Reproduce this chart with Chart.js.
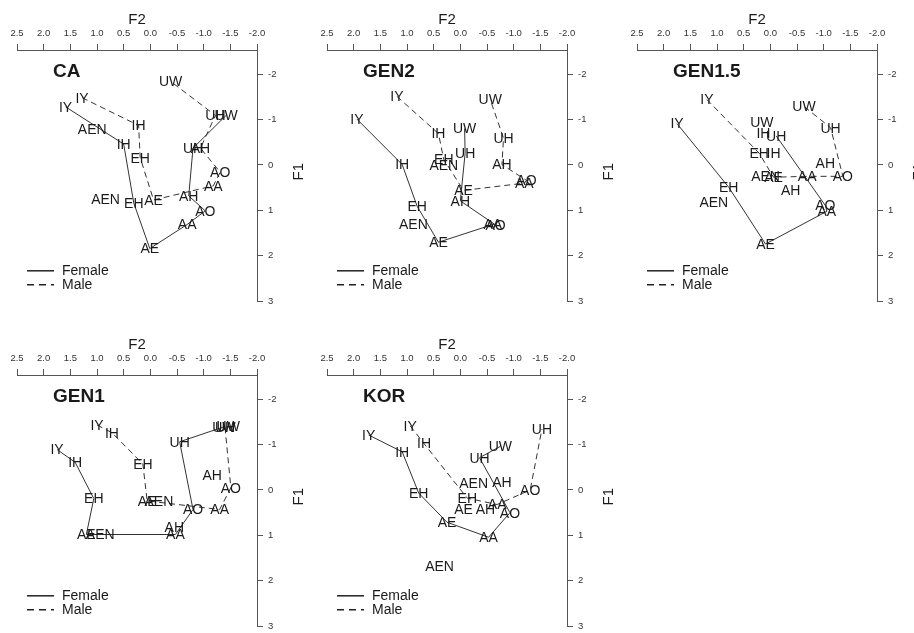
<!DOCTYPE html>
<html>
<head>
<meta charset="utf-8">
<title>Vowel spaces</title>
<script src="https://cdn.jsdelivr.net/npm/chart.js@4.4.1/dist/chart.umd.min.js"></script>
<style>
  html, body { margin: 0; padding: 0; background: #fff; overflow: hidden; }
  body { width: 914px; height: 633px; position: relative; }
  canvas { position: absolute; }
</style>
</head>
<body>
<canvas id="ca" width="320" height="312" style="left:-3px;top:0px"></canvas>
<canvas id="gen2" width="320" height="312" style="left:307px;top:0px"></canvas>
<canvas id="gen15" width="320" height="312" style="left:617px;top:0px"></canvas>
<canvas id="gen1" width="320" height="312" style="left:-3px;top:325px"></canvas>
<canvas id="kor" width="320" height="312" style="left:307px;top:325px"></canvas>
<script>
const FONT = '"Liberation Sans", Arial, Helvetica, sans-serif';

// axis ticks
const f2Ticks = [2.5, 2.0, 1.5, 1.0, 0.5, 0.0, -0.5, -1.0, -1.5, -2.0];
const f1Ticks = [-2, -1, 0, 1, 2, 3];

const vowelOrder = ['IY', 'IH', 'EH', 'AE', 'AA', 'AO', 'AH', 'UH', 'UW'];

// CA
const caFemaleF2 = [1.59, 0.5, 0.31, 0.01, -0.69, -1.03, -0.72, -0.8, -1.42];
const caFemaleF1 = [-1.28, -0.46, 0.84, 1.84, 1.31, 1.01, 0.68, -0.37, -1.09];
const caMaleF2 = [1.28, 0.22, 0.19, -0.06, -1.18, -1.31, -0.94, -1.22, -0.38];
const caMaleF1 = [-1.48, -0.87, -0.16, 0.77, 0.46, 0.16, -0.37, -1.09, -1.84];
const caOtherVowels = ['AEN', 'AEN'];
const caOtherF2 = [1.09, 0.84];
const caOtherF1 = [-0.78, 0.76];

// GEN2
const gen2FemaleF2 = [1.94, 1.09, 0.81, 0.41, -0.61, -0.66, 0.0, -0.09, -0.08];
const gen2FemaleF1 = [-1.01, -0.01, 0.91, 1.70, 1.31, 1.32, 0.79, -0.26, -0.8];
const gen2MaleF2 = [1.19, 0.41, 0.31, -0.06, -1.2, -1.24, -0.78, -0.81, -0.56];
const gen2MaleF1 = [-1.51, -0.69, -0.12, 0.56, 0.4, 0.34, -0.01, -0.59, -1.44];
const gen2OtherVowels = ['AEN', 'AEN'];
const gen2OtherF2 = [0.88, 0.31];
const gen2OtherF1 = [1.31, 0.0];

// GEN1.5
const gen15FemaleVowels = ['IY', 'EH', 'AE', 'AA', 'AO', 'UH'];
const gen15FemaleF2 = [1.75, 0.78, 0.09, -1.06, -1.03, -0.11];
const gen15FemaleF1 = [-0.91, 0.49, 1.74, 1.02, 0.89, -0.64];
const gen15MaleVowels = ['IY', 'EH', 'AE', 'AA', 'AO', 'UH', 'UW'];
const gen15MaleF2 = [1.19, 0.21, -0.06, -0.69, -1.36, -1.13, -0.63];
const gen15MaleF1 = [-1.44, -0.26, 0.27, 0.25, 0.25, -0.82, -1.29];
const gen15OtherVowels = ['IH', 'IH', 'UW', 'AH', 'AH', 'AEN', 'AEN'];
const gen15OtherF2 = [0.13, -0.06, 0.16, -1.03, -0.38, 0.09, 1.06];
const gen15OtherF1 = [-0.69, -0.26, -0.94, -0.05, 0.56, 0.25, 0.81];

// GEN1
const gen1FemaleVowels = ['IY', 'IH', 'EH', 'AE', 'AA', 'AO', 'UH', 'UW'];
const gen1FemaleF2 = [1.75, 1.41, 1.06, 1.2, -0.47, -0.8, -0.55, -1.38];
const gen1FemaleF1 = [-0.89, -0.61, 0.19, 0.98, 0.98, 0.43, -1.06, -1.39];
const gen1MaleVowels = ['IY', 'IH', 'EH', 'AE', 'AA', 'AO', 'UH', 'UW'];
const gen1MaleF2 = [1.0, 0.72, 0.14, 0.06, -1.3, -1.51, -1.4, -1.46];
const gen1MaleF1 = [-1.43, -1.26, -0.57, 0.24, 0.43, -0.05, -1.38, -1.41];
const gen1OtherVowels = ['AH', 'AEN', 'AH', 'AEN'];
const gen1OtherF2 = [-0.45, 0.94, -1.16, -0.16];
const gen1OtherF1 = [0.82, 0.98, -0.32, 0.24];

// KOR
const korFemaleVowels = ['IY', 'IH', 'EH', 'AE', 'AA', 'AO', 'UH', 'UW'];
const korFemaleF2 = [1.72, 1.09, 0.78, 0.25, -0.53, -0.93, -0.36, -0.75];
const korFemaleF1 = [-1.21, -0.84, 0.07, 0.71, 1.04, 0.5, -0.71, -0.96];
const korMaleVowels = ['IY', 'IH', 'EH', 'AA', 'AO', 'UH'];
const korMaleF2 = [0.94, 0.68, -0.13, -0.69, -1.31, -1.53];
const korMaleF1 = [-1.41, -1.02, 0.18, 0.32, 0.0, -1.34];
const korOtherVowels = ['AE', 'AH', 'AH', 'AEN', 'AEN'];
const korOtherF2 = [-0.06, -0.47, -0.78, -0.25, 0.39];
const korOtherF1 = [0.43, 0.43, -0.18, -0.14, 1.68];

function points(f2, f1) {
    return f2.map((x, i) => ({ x: x, y: f1[i] }));
}

// vowel text, panel title, legend and the F1 title
const vowelText = {
    id: 'vowelText',
    afterDatasetsDraw(chart, args, opts) {
        const ctx = chart.ctx;
        const { left, right, top, bottom } = chart.chartArea;
        const xs = chart.scales.x;
        const ys = chart.scales.y;
        ctx.save();
        ctx.fillStyle = '#1a1a1a';
        ctx.font = '14px ' + FONT;
        ctx.textAlign = 'center';
        ctx.textBaseline = 'middle';
        chart.data.datasets.forEach(ds => {
            ds.data.forEach((p, i) => {
                ctx.fillText(ds.vowels[i], xs.getPixelForValue(p.x), ys.getPixelForValue(p.y) + 1);
            });
        });

        ctx.textAlign = 'left';
        ctx.font = 'bold 19px ' + FONT;
        ctx.fillText(opts.title, left + 36, top + 22);

        // legend
        ctx.strokeStyle = '#222';
        ctx.lineWidth = 1.5;
        ctx.beginPath();
        ctx.moveTo(left + 10, bottom - 30.5);
        ctx.lineTo(left + 37, bottom - 30.5);
        ctx.stroke();
        ctx.setLineDash([7, 5]);
        ctx.beginPath();
        ctx.moveTo(left + 10, bottom - 16.5);
        ctx.lineTo(left + 37, bottom - 16.5);
        ctx.stroke();
        ctx.setLineDash([]);
        ctx.font = '14px ' + FONT;
        ctx.fillText('Female', left + 45, bottom - 30);
        ctx.fillText('Male', left + 45, bottom - 16);

        // F1 axis title, reading bottom to top
        ctx.translate(right + 42, (top + bottom) / 2 - 4);
        ctx.rotate(-Math.PI / 2);
        ctx.textAlign = 'center';
        ctx.font = '15px ' + FONT;
        ctx.fillText('F1', 0, 0);
        ctx.restore();
    }
};

function makeChart(id, title, female, male, other) {
    const lineColor = '#333';
    new Chart(document.getElementById(id), {
        type: 'scatter',
        data: {
            datasets: [
                {
                    vowels: female.vowels,
                    data: points(female.f2, female.f1),
                    showLine: true,
                    borderColor: lineColor,
                    borderWidth: 1,
                    pointRadius: 0
                },
                {
                    vowels: male.vowels,
                    data: points(male.f2, male.f1),
                    showLine: true,
                    borderColor: lineColor,
                    borderWidth: 1,
                    borderDash: [6, 4],
                    pointRadius: 0
                },
                {
                    vowels: other.vowels,
                    data: points(other.f2, other.f1),
                    showLine: false,
                    pointRadius: 0
                }
            ]
        },
        options: {
            responsive: false,
            animation: false,
            layout: { padding: { left: 20, top: 0, right: 0, bottom: 6 } },
            plugins: {
                legend: { display: false },
                tooltip: { enabled: false },
                vowelText: { title: title }
            },
            scales: {
                x: {
                    type: 'linear',
                    position: 'top',
                    reverse: true,
                    min: -2,
                    max: 2.5,
                    afterBuildTicks: s => { s.ticks = f2Ticks.map(v => ({ value: v })); },
                    afterFit: s => { s.height = 50; },
                    ticks: {
                        callback: v => v.toFixed(1),
                        color: '#333',
                        font: { family: FONT, size: 9.5 },
                        padding: 5,
                        maxRotation: 0,
                        autoSkip: false
                    },
                    grid: { drawOnChartArea: false, tickLength: 6, color: '#555' },
                    border: { color: '#555', width: 1 },
                    title: {
                        display: true,
                        text: 'F2',
                        color: '#1a1a1a',
                        font: { family: FONT, size: 15 },
                        padding: { top: 11, bottom: 0 }
                    }
                },
                y: {
                    type: 'linear',
                    position: 'right',
                    reverse: true,
                    min: -2.53,
                    max: 3,
                    afterBuildTicks: s => { s.ticks = f1Ticks.map(v => ({ value: v })); },
                    afterFit: s => { s.width = 60; },
                    ticks: {
                        callback: v => String(v),
                        color: '#333',
                        font: { family: FONT, size: 9.5 },
                        padding: 5
                    },
                    grid: { drawOnChartArea: false, tickLength: 6, color: '#555' },
                    border: { color: '#555', width: 1 }
                }
            }
        },
        plugins: [vowelText]
    });
}

makeChart('ca', 'CA',
    { vowels: vowelOrder, f2: caFemaleF2, f1: caFemaleF1 },
    { vowels: vowelOrder, f2: caMaleF2, f1: caMaleF1 },
    { vowels: caOtherVowels, f2: caOtherF2, f1: caOtherF1 });

makeChart('gen2', 'GEN2',
    { vowels: vowelOrder, f2: gen2FemaleF2, f1: gen2FemaleF1 },
    { vowels: vowelOrder, f2: gen2MaleF2, f1: gen2MaleF1 },
    { vowels: gen2OtherVowels, f2: gen2OtherF2, f1: gen2OtherF1 });

makeChart('gen15', 'GEN1.5',
    { vowels: gen15FemaleVowels, f2: gen15FemaleF2, f1: gen15FemaleF1 },
    { vowels: gen15MaleVowels, f2: gen15MaleF2, f1: gen15MaleF1 },
    { vowels: gen15OtherVowels, f2: gen15OtherF2, f1: gen15OtherF1 });

makeChart('gen1', 'GEN1',
    { vowels: gen1FemaleVowels, f2: gen1FemaleF2, f1: gen1FemaleF1 },
    { vowels: gen1MaleVowels, f2: gen1MaleF2, f1: gen1MaleF1 },
    { vowels: gen1OtherVowels, f2: gen1OtherF2, f1: gen1OtherF1 });

makeChart('kor', 'KOR',
    { vowels: korFemaleVowels, f2: korFemaleF2, f1: korFemaleF1 },
    { vowels: korMaleVowels, f2: korMaleF2, f1: korMaleF1 },
    { vowels: korOtherVowels, f2: korOtherF2, f1: korOtherF1 });
</script>
</body>
</html>
